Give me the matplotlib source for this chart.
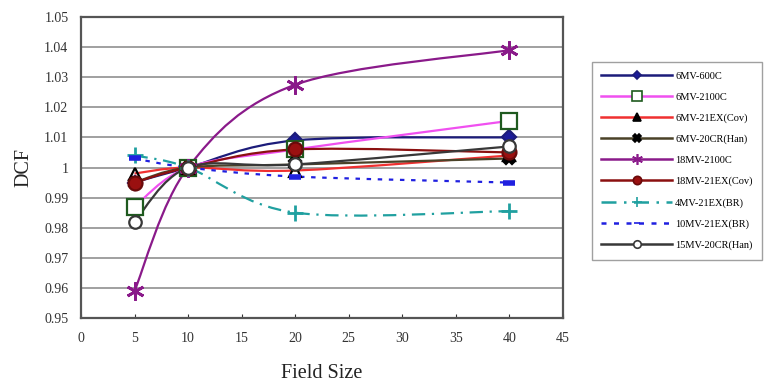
import matplotlib
matplotlib.use("Agg")
import matplotlib.pyplot as plt
from matplotlib.path import Path
from matplotlib.patches import PathPatch
from matplotlib.lines import Line2D

plt.rcParams['font.family'] = ['Liberation Serif', 'DejaVu Serif']

field_size = [5, 10, 20, 40]

mv6_600c = [0.995, 1.000, 1.009, 1.010]
mv6_2100c = [0.987, 1.000, 1.006, 1.0155]
mv6_21ex_cov = [0.998, 1.000, 0.999, 1.004]
mv6_20cr_han = [0.995, 1.000, 1.001, 1.003]
mv18_2100c = [0.959, 1.000, 1.0275, 1.039]
mv18_21ex_cov = [0.995, 1.000, 1.006, 1.005]
mv4_21ex_br = [1.004, 1.000, 0.985, 0.9855]
mv10_21ex_br = [1.003, 1.000, 0.997, 0.995]
mv15_20cr_han = [0.982, 1.000, 1.001, 1.007]

labels = ["6MV-600C", "6MV-2100C", "6MV-21EX(Cov)", "6MV-20CR(Han)", "18MV-2100C",
          "18MV-21EX(Cov)", "4MV-21EX(BR)", "10MV-21EX(BR)", "15MV-20CR(Han)"]
series = [mv6_600c, mv6_2100c, mv6_21ex_cov, mv6_20cr_han, mv18_2100c,
          mv18_21ex_cov, mv4_21ex_br, mv10_21ex_br, mv15_20cr_han]

# line colour, line style, marker, marker size, marker face, marker edge
styles = [
    ("#1c1c7a", "-", "D", 7, "#1c1c9a", "#1c1c7a"),
    ("#f050f0", "-", "s", 12, "white", "#1f5a1f"),
    ("#f03030", "-", "^", 9, "none", "black"),
    ("#4a4228", "-", "X", 9, "black", "black"),
    ("#8a1a8a", "-", (6, 2, 0), 13, "#8a1a8a", "#8a1a8a"),
    ("#8b1010", "-", "o", 10, "#9a1010", "#6a0a0a"),
    ("#20a0a0", (0, (6, 3, 1, 3)), "+", 11, "#20a0a0", "#20a0a0"),
    ("#2020e0", (0, (2, 3)), "_", 8, "#2020e0", "#2020e0"),
    ("#383838", "-", "o", 9, "white", "#383838"),
]


def smooth_path(xs, ys):
    # Excel-style smoothed line as cubic Bezier segments
    pts = list(zip(xs, ys))
    verts = [pts[0]]
    codes = [Path.MOVETO]
    n = len(pts)
    for i in range(n - 1):
        p0 = pts[i - 1] if i > 0 else pts[i]
        p1 = pts[i]
        p2 = pts[i + 1]
        p3 = pts[i + 2] if i + 2 < n else pts[i + 1]
        c1 = (p1[0] + (p2[0] - p0[0]) / 6, p1[1] + (p2[1] - p0[1]) / 6)
        c2 = (p2[0] - (p3[0] - p1[0]) / 6, p2[1] - (p3[1] - p1[1]) / 6)
        verts += [c1, c2, p2]
        codes += [Path.CURVE4] * 3
    return Path(verts, codes)


fig = plt.figure(figsize=(7.77, 3.83), dpi=100)
ax = fig.add_axes([0.1042, 0.1697, 0.6204, 0.7859])

handles = []
for lab, ys, (col, ls, mk, ms, mfc, mec) in zip(labels, series, styles):
    patch = PathPatch(smooth_path(field_size, ys), facecolor="none", edgecolor=col,
                      linewidth=1.6, linestyle=ls, zorder=3)
    ax.add_patch(patch)
    mew = 2.0 if mk in ("+", "_", (6, 2, 0)) else 1.6
    if mk == "_":
        mew = 4
    ax.plot(field_size, ys, linestyle="none", marker=mk, markersize=ms,
            markerfacecolor=mfc, markeredgecolor=mec, markeredgewidth=mew, zorder=4)
    handles.append(Line2D([], [], color=col, linestyle=ls, linewidth=1.8, marker=mk,
                          markersize=ms * 0.6, markerfacecolor=mec if mfc == "none" else mfc,
                          markeredgecolor=mec, markeredgewidth=1.2, label=lab))

ax.set_xlim(0, 45)
ax.set_ylim(0.95, 1.05)
ax.set_xticks(range(0, 50, 5))
ax.set_yticks([0.95 + 0.01 * i for i in range(11)])
ax.set_yticklabels(["0.95", "0.96", "0.97", "0.98", "0.99", "1", "1.01", "1.02",
                    "1.03", "1.04", "1.05"])
ax.tick_params(axis="both", labelsize=10, colors="#333333")
ax.tick_params(axis="x", direction="in", length=3, pad=10)
ax.tick_params(axis="y", length=0, pad=9)
ax.yaxis.grid(True, color="#a0a0a0", linewidth=1.4)
ax.set_axisbelow(True)
for sp in ax.spines.values():
    sp.set_color("#555555")
    sp.set_linewidth(1.6)

ax.set_xlabel("Field Size", fontsize=14.5, labelpad=14, color="#222222")
ax.set_ylabel("DCF", fontsize=14.5, labelpad=8, color="#222222")

leg = fig.legend(handles=handles, loc="upper left", bbox_to_anchor=(0.755, 0.852),
                 fontsize=7.5, handlelength=6.8, handletextpad=0.3, labelspacing=1.12,
                 frameon=True, fancybox=False, borderpad=0.9)
leg.get_frame().set_edgecolor("#888888")
leg.get_frame().set_linewidth(1.0)

fig.savefig("out.png", dpi=100)
